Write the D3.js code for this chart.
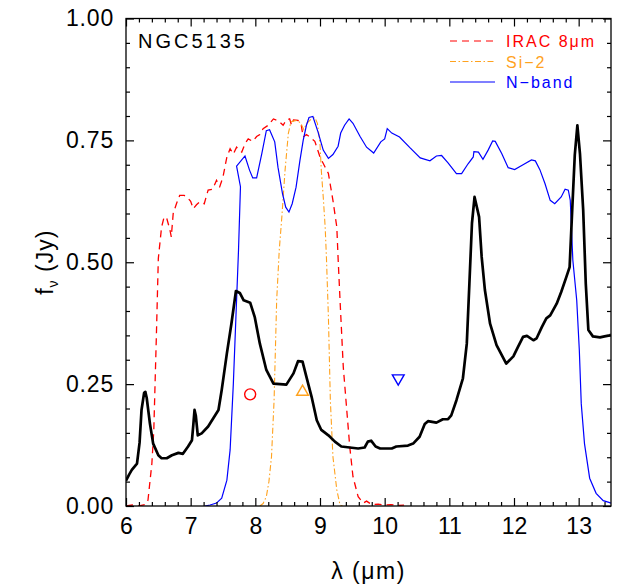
<!DOCTYPE html>
<html>
<head>
<meta charset="utf-8">
<script src="https://cdn.jsdelivr.net/npm/d3@7"></script>
<style>
  html, body { margin: 0; padding: 0; background: #fff; }
  svg text { font-family: "Liberation Sans", Arial, Helvetica, sans-serif; }
</style>
</head>
<body>
<svg id="chart" width="619" height="586"></svg>
<script>
// NGC5135 mid-IR spectrum with filter transmission curves and photometry
const objectName = "NGC5135";

// Spectrum: [wavelength (um), flux (Jy)]
const spectrum = [
  [6.00,0.052],[6.05,0.065],[6.09,0.074],[6.17,0.087],[6.21,0.130],[6.24,0.197],[6.28,0.232],
  [6.30,0.234],[6.32,0.222],[6.37,0.169],[6.42,0.128],[6.50,0.104],[6.55,0.098],[6.63,0.098],
  [6.71,0.104],[6.81,0.109],[6.88,0.107],[6.96,0.122],[7.02,0.135],[7.04,0.165],[7.06,0.197],
  [7.08,0.185],[7.11,0.145],[7.17,0.149],[7.27,0.163],[7.35,0.180],[7.43,0.197],[7.48,0.238],
  [7.56,0.313],[7.63,0.374],[7.70,0.441],[7.76,0.437],[7.82,0.422],[7.92,0.417],[7.99,0.388],
  [8.07,0.333],[8.17,0.279],[8.28,0.251],[8.48,0.249],[8.59,0.272],[8.66,0.297],[8.73,0.296],
  [8.79,0.265],[8.87,0.224],[8.95,0.176],[9.02,0.156],[9.13,0.145],[9.23,0.132],[9.33,0.122],
  [9.46,0.120],[9.59,0.118],[9.69,0.120],[9.74,0.132],[9.79,0.134],[9.86,0.122],[9.93,0.118],
  [10.11,0.118],[10.18,0.122],[10.36,0.124],[10.44,0.128],[10.54,0.142],[10.62,0.168],
  [10.67,0.174],[10.80,0.171],[10.90,0.178],[10.98,0.178],[11.03,0.186],[11.11,0.217],
  [11.21,0.262],[11.27,0.333],[11.31,0.456],[11.35,0.580],[11.39,0.634],[11.46,0.593],
  [11.50,0.511],[11.55,0.443],[11.63,0.374],[11.73,0.330],[11.88,0.292],[11.99,0.307],
  [12.06,0.326],[12.14,0.347],[12.20,0.349],[12.30,0.340],[12.35,0.344],[12.43,0.367],
  [12.50,0.385],[12.56,0.391],[12.66,0.415],[12.73,0.439],[12.81,0.470],[12.86,0.490],
  [12.90,0.607],[12.94,0.720],[12.98,0.781],[13.02,0.723],[13.07,0.607],[13.11,0.456],
  [13.15,0.361],[13.22,0.348],[13.33,0.346],[13.40,0.348],[13.48,0.350],[13.50,0.351]
];

// IRAC 8um transmission (scaled)
const iracBand = [
  [6.00,0.000],[6.10,0.002],[6.20,0.000],[6.30,0.003],[6.34,0.012],[6.40,0.087],[6.43,0.156],
  [6.47,0.350],[6.50,0.508],[6.55,0.572],[6.59,0.593],[6.63,0.590],[6.68,0.566],[6.70,0.552],
  [6.73,0.600],[6.78,0.620],[6.83,0.637],[6.90,0.637],[6.96,0.631],[7.00,0.625],[7.04,0.610],
  [7.09,0.618],[7.14,0.624],[7.21,0.620],[7.27,0.648],[7.34,0.650],[7.40,0.668],[7.45,0.655],
  [7.50,0.675],[7.56,0.716],[7.61,0.733],[7.66,0.722],[7.71,0.736],[7.79,0.726],[7.84,0.743],
  [7.89,0.753],[7.96,0.748],[8.02,0.758],[8.07,0.762],[8.12,0.774],[8.20,0.781],[8.28,0.794],
  [8.36,0.790],[8.43,0.781],[8.48,0.792],[8.53,0.794],[8.56,0.781],[8.59,0.792],[8.66,0.791],
  [8.71,0.781],[8.74,0.757],[8.79,0.762],[8.84,0.757],[8.92,0.748],[9.00,0.716],[9.08,0.695],
  [9.13,0.682],[9.20,0.627],[9.26,0.572],[9.28,0.508],[9.31,0.422],[9.36,0.285],[9.41,0.203],
  [9.46,0.122],[9.51,0.060],[9.59,0.019],[9.67,0.006],[9.72,0.010],[9.80,0.003],[9.90,0.004],
  [10.00,0.002],[10.10,0.003],[10.20,0.001],[10.30,0.002]
];

// Si-2 transmission (scaled)
const si2Band = [
  [8.07,0.000],[8.12,0.005],[8.17,0.019],[8.21,0.050],[8.25,0.101],[8.29,0.217],[8.33,0.422],
  [8.37,0.525],[8.41,0.593],[8.46,0.689],[8.51,0.764],[8.55,0.788],[8.60,0.790],[8.64,0.791],
  [8.70,0.786],[8.75,0.772],[8.79,0.784],[8.85,0.792],[8.92,0.797],[8.96,0.785],[9.00,0.743],
  [9.02,0.689],[9.05,0.634],[9.08,0.572],[9.10,0.508],[9.13,0.388],[9.16,0.217],[9.20,0.101],
  [9.26,0.033],[9.31,0.002],[9.35,0.000]
];

// N-band transmission (scaled)
const nBand = [
  [7.22,0.000],[7.30,0.002],[7.40,0.006],[7.48,0.016],[7.56,0.053],[7.61,0.115],[7.66,0.251],
  [7.70,0.388],[7.74,0.525],[7.77,0.655],[7.71,0.697],[7.84,0.718],[7.91,0.689],[7.96,0.673],
  [8.02,0.673],[8.10,0.723],[8.17,0.770],[8.22,0.772],[8.30,0.747],[8.35,0.695],[8.42,0.641],
  [8.47,0.613],[8.52,0.603],[8.57,0.620],[8.63,0.654],[8.69,0.709],[8.74,0.750],[8.79,0.781],
  [8.83,0.797],[8.89,0.799],[8.97,0.767],[9.05,0.730],[9.13,0.713],[9.20,0.721],[9.28,0.738],
  [9.32,0.765],[9.38,0.781],[9.45,0.794],[9.51,0.785],[9.62,0.758],[9.72,0.736],[9.83,0.724],
  [9.94,0.747],[10.00,0.753],[10.04,0.774],[10.11,0.765],[10.23,0.757],[10.39,0.735],
  [10.55,0.714],[10.70,0.708],[10.80,0.718],[10.88,0.719],[10.98,0.704],[11.11,0.682],
  [11.19,0.682],[11.29,0.702],[11.37,0.716],[11.38,0.727],[11.45,0.726],[11.52,0.711],
  [11.60,0.730],[11.67,0.749],[11.71,0.748],[11.81,0.723],[11.91,0.694],[12.01,0.690],
  [12.14,0.700],[12.27,0.710],[12.33,0.708],[12.40,0.690],[12.48,0.661],[12.56,0.627],
  [12.63,0.620],[12.73,0.634],[12.79,0.650],[12.84,0.648],[12.87,0.627],[12.91,0.504],
  [12.97,0.422],[13.01,0.320],[13.04,0.210],[13.09,0.128],[13.17,0.057],[13.27,0.026],
  [13.38,0.011],[13.48,0.007],[13.50,0.006]
];

// Photometry points: [wavelength, flux]
const iracPhot = [[7.92, 0.229]];
const si2Phot  = [[8.73, 0.234]];
const nPhot    = [[10.21, 0.262]];

// Axis ticks
const xMajorTicks = [6, 7, 8, 9, 10, 11, 12, 13];
const yMajorTicks = [0, 0.25, 0.5, 0.75, 1.0];
const yTickLabels = ["0.00", "0.25", "0.50", "0.75", "1.00"];

// Legend
const legendNames  = ["IRAC 8\u03bcm", "Si\u22122", "N\u2212band"];
const legendColors = ["#ff0000", "#ffa21e", "#0000ff"];
const legendDashes = ["7,5", "6,2.5,1.5,2.5", null];

const svg = d3.select("#chart");
const W = 619, H = 586;
const margin = { left: 126, right: 8, top: 18.5, bottom: 80 };
const x0 = margin.left, x1 = W - margin.right;
const y0 = H - margin.bottom, y1 = margin.top;

const x = d3.scaleLinear().domain([6, 13.5]).range([x0, x1]);
const y = d3.scaleLinear().domain([0, 1]).range([y0, y1]);

const xMinor = d3.range(6, 13.5001, 0.2).map(v => +v.toFixed(2)).filter(v => !xMajorTicks.includes(v));
const yMinor = d3.range(0, 1.0001, 0.05).map(v => +v.toFixed(2)).filter(v => !yMajorTicks.includes(v));

svg.append("defs").append("clipPath").attr("id", "plotClip")
  .append("rect").attr("x", x0).attr("y", y1).attr("width", x1 - x0).attr("height", y0 - y1);

const plot = svg.append("g").attr("clip-path", "url(#plotClip)");
const line = d3.line().x(d => x(d[0])).y(d => y(d[1]));

// Filter curves
plot.append("path").datum(iracBand).attr("d", line)
  .attr("fill", "none").attr("stroke", legendColors[0]).attr("stroke-width", 1.3)
  .attr("stroke-dasharray", legendDashes[0]);
plot.append("path").datum(si2Band).attr("d", line)
  .attr("fill", "none").attr("stroke", legendColors[1]).attr("stroke-width", 1.1)
  .attr("stroke-dasharray", legendDashes[1]);
plot.append("path").datum(nBand).attr("d", line)
  .attr("fill", "none").attr("stroke", legendColors[2]).attr("stroke-width", 1.2);

// Spectrum
plot.append("path").datum(spectrum).attr("d", line)
  .attr("fill", "none").attr("stroke", "#000").attr("stroke-width", 2.7)
  .attr("stroke-linejoin", "round");

// Photometry markers
plot.selectAll("circle.irac").data(iracPhot).join("circle").attr("class", "irac")
  .attr("cx", d => x(d[0])).attr("cy", d => y(d[1])).attr("r", 5.5)
  .attr("fill", "none").attr("stroke", legendColors[0]).attr("stroke-width", 1.4);
const triUp = d3.symbol().type(d3.symbolTriangle).size(60);
plot.selectAll("path.si2").data(si2Phot).join("path").attr("class", "si2")
  .attr("d", triUp).attr("transform", d => `translate(${x(d[0])},${y(d[1])})`)
  .attr("fill", "none").attr("stroke", legendColors[1]).attr("stroke-width", 1.4);
plot.selectAll("path.nb").data(nPhot).join("path").attr("class", "nb")
  .attr("d", triUp).attr("transform", d => `translate(${x(d[0])},${y(d[1])}) rotate(180)`)
  .attr("fill", "none").attr("stroke", legendColors[2]).attr("stroke-width", 1.4);

// Axes: inward ticks on all four sides, labels on bottom and left
function styleAxis(g) {
  g.select(".domain").remove();
  g.selectAll(".tick line").attr("stroke", "#000").attr("stroke-width", 1.2);
}
const fs = "23px";
svg.append("g").attr("transform", `translate(0,${y0})`)
  .call(d3.axisBottom(x).tickValues(xMajorTicks).tickSize(-8).tickPadding(12).tickFormat(d3.format("d")))
  .call(styleAxis).call(g => g.selectAll("text").attr("font-size", fs).attr("fill", "#000"));
svg.append("g").attr("transform", `translate(0,${y0})`)
  .call(d3.axisBottom(x).tickValues(xMinor).tickSize(-4).tickFormat(""))
  .call(styleAxis);
svg.append("g").attr("transform", `translate(0,${y1})`)
  .call(d3.axisTop(x).tickValues(xMajorTicks).tickSize(-8).tickFormat(""))
  .call(styleAxis);
svg.append("g").attr("transform", `translate(0,${y1})`)
  .call(d3.axisTop(x).tickValues(xMinor).tickSize(-4).tickFormat(""))
  .call(styleAxis);
svg.append("g").attr("transform", `translate(${x0},0)`)
  .call(d3.axisLeft(y).tickValues(yMajorTicks).tickSize(-8).tickPadding(12)
    .tickFormat((d, i) => yTickLabels[i]))
  .call(styleAxis).call(g => g.selectAll("text").attr("font-size", fs).attr("fill", "#000")
    .attr("letter-spacing", "0.8px"));
svg.append("g").attr("transform", `translate(${x0},0)`)
  .call(d3.axisLeft(y).tickValues(yMinor).tickSize(-4).tickFormat(""))
  .call(styleAxis);
svg.append("g").attr("transform", `translate(${x1},0)`)
  .call(d3.axisRight(y).tickValues(yMajorTicks).tickSize(-8).tickFormat(""))
  .call(styleAxis);
svg.append("g").attr("transform", `translate(${x1},0)`)
  .call(d3.axisRight(y).tickValues(yMinor).tickSize(-4).tickFormat(""))
  .call(styleAxis);

// Frame
svg.append("rect").attr("x", x0).attr("y", y1).attr("width", x1 - x0).attr("height", y0 - y1)
  .attr("fill", "none").attr("stroke", "#000").attr("stroke-width", 1.3);

// Axis titles
svg.append("text").attr("x", (x0 + x1) / 2).attr("y", 579).attr("text-anchor", "middle")
  .attr("font-size", "23px").attr("letter-spacing", "1.5px").text("\u03bb (\u03bcm)");
const yt = svg.append("text").attr("transform", `translate(53,${(y0 + y1) / 2}) rotate(-90)`)
  .attr("text-anchor", "middle").attr("font-size", "23px").attr("letter-spacing", "1px");
yt.append("tspan").text("f");
yt.append("tspan").attr("font-size", "14px").attr("dy", 5).text("\u03bd");
yt.append("tspan").attr("dy", -5).text(" (Jy)");

// Object name
svg.append("text").attr("x", 138).attr("y", 47.5).attr("font-size", "20px")
  .attr("letter-spacing", "3px").text(objectName);

// Legend
const leg = svg.append("g");
legendNames.forEach((name, i) => {
  const ly = 41 + i * 20.5;
  leg.append("line").attr("x1", 450).attr("x2", 495).attr("y1", ly).attr("y2", ly)
    .attr("stroke", legendColors[i]).attr("stroke-width", 1.2)
    .attr("stroke-dasharray", legendDashes[i]);
  leg.append("text").attr("x", 506).attr("y", ly + 6).attr("font-size", "16px")
    .attr("letter-spacing", "2px").attr("fill", legendColors[i]).text(name);
});
</script>
</body>
</html>
